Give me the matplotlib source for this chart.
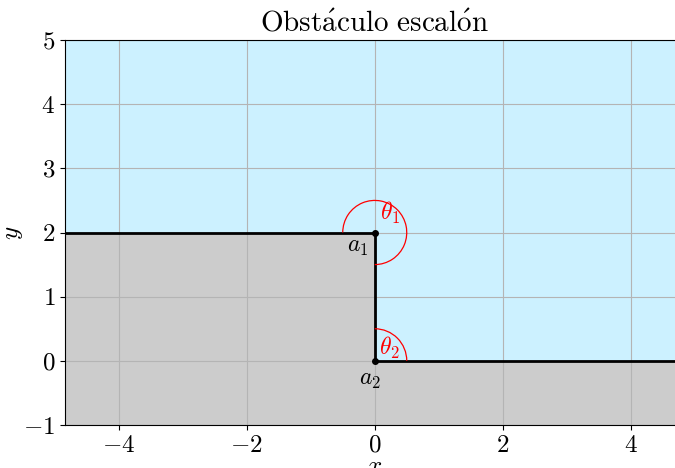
import numpy as np
import matplotlib
matplotlib.use("Agg")
import matplotlib.pyplot as plt
from matplotlib.patches import Arc

plt.rcParams['mathtext.fontset'] = 'cm'
plt.rcParams['font.family'] = ['cmr10', 'DejaVu Serif']
plt.rcParams['axes.formatter.use_mathtext'] = True
plt.rcParams['axes.unicode_minus'] = True

# data
step_x = [-10, 0, 0, 10]
step_y = [2, 2, 0, 0]
vertices_x = [0, 0]
vertices_y = [2, 0]
vertex_labels = [r'$a_1$', r'$a_2$']
angle_labels = [r'$\theta_1$', r'$\theta_2$']
arc_ranges = [(-90, 180), (0, 90)]
arc_radius = 0.5
xticks = [-4, -2, 0, 2, 4]
yticks = [-1, 0, 1, 2, 3, 4, 5]

fig = plt.figure(figsize=(6.75, 4.68), dpi=100)
ax = fig.add_axes([65/675, 43/468, 619.5/675, 385/468])
ax.set_facecolor('#ccf1ff')
ax.fill_between(step_x, step_y, -10, color='#cccccc', zorder=1, linewidth=0)
ax.plot(step_x, step_y, color='black', lw=2, zorder=3)
ax.plot(vertices_x, vertices_y, 'o', color='black', ms=4, zorder=4)

for (cx, cy), (t1, t2) in zip(zip(vertices_x, vertices_y), arc_ranges):
    ax.add_patch(Arc((cx, cy), 2*arc_radius, 2*arc_radius, theta1=t1, theta2=t2,
                     color='red', lw=0.9, zorder=3))

ax.text(0.08, 2.1, angle_labels[0], color='red', fontsize=17, ha='left', va='bottom')
ax.text(0.07, -0.01, angle_labels[1], color='red', fontsize=17, ha='left', va='bottom')
ax.text(-0.1, 1.95, vertex_labels[0], color='black', fontsize=17, ha='right', va='top')
ax.text(-0.08, -0.12, vertex_labels[1], color='black', fontsize=17, ha='center', va='top')

ax.set_xlim(-4.84, 4.84)
ax.set_ylim(-1, 5)
ax.set_xticks(xticks)
ax.set_yticks(yticks)
ax.tick_params(labelsize=18)
ax.grid(True, color='#b4b4b4', lw=0.8)
ax.set_title(r'$\mathrm{Obst\acute{a}culo\ escal\acute{o}n}$', fontsize=21)
ax.set_xlabel(r'$x$', fontsize=18)
ax.set_ylabel(r'$y$', fontsize=18)
ax.xaxis.set_label_coords(0.5, -0.08)
ax.yaxis.set_label_coords(-0.064, 0.5)

fig.savefig('out.png', dpi=100)
